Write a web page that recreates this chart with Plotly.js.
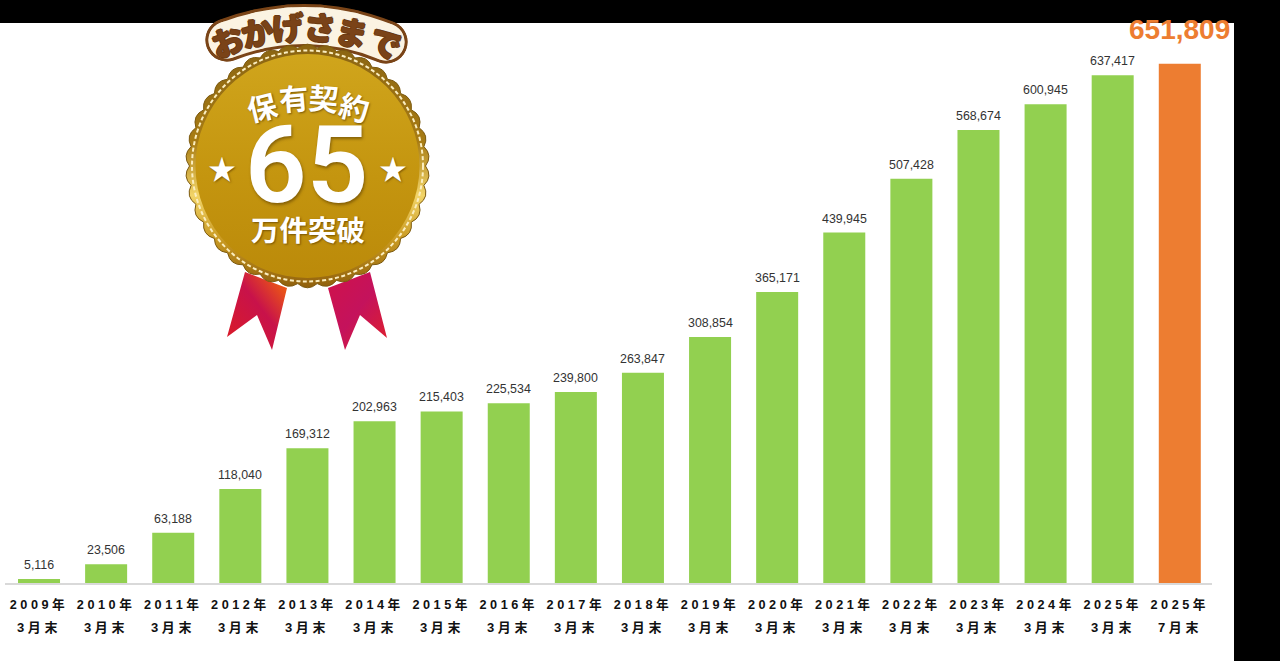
<!DOCTYPE html>
<html><head><meta charset="utf-8">
<script src="https://cdn.plot.ly/plotly-3.0.1.min.js"></script>
<style>html,body{margin:0;padding:0;background:#000;overflow:hidden}</style>
</head><body><div id="chart" style="width:1280px;height:661px"></div>
<script>
const yearLabels=["2009年","2010年","2011年","2012年","2013年","2014年","2015年","2016年","2017年","2018年","2019年","2020年","2021年","2022年","2023年","2024年","2025年","2025年"];
const monthLabels=["3月末","3月末","3月末","3月末","3月末","3月末","3月末","3月末","3月末","3月末","3月末","3月末","3月末","3月末","3月末","3月末","3月末","7月末"];
const contracts=[5116,23506,63188,118040,169312,202963,215403,225534,239800,263847,308854,365171,439945,507428,568674,600945,637417,651809];
const GREEN="#92d050",ORANGE="#ed7d31";

const W=1280,H=661,L=5,R=1212,T=23,B=583;
const px=v=>(v-L)/(R-L), py=v=>(B-v)/(B-T);
const space=s=>Array.from(s).join(" ");
const cats=yearLabels.map((y,i)=>y+monthLabels[i]);
const last=contracts.length-1;
const fmt=v=>v.toLocaleString("en-US");

const annos=[];
contracts.forEach((v,i)=>{
  if(i===last) annos.push({x:cats[i],y:v,xref:"x",yref:"y",text:fmt(v),showarrow:false,yanchor:"bottom",yshift:17,
    font:{family:"Liberation Sans",size:28,color:ORANGE,weight:700}});
  else annos.push({x:cats[i],y:v,xref:"x",yref:"y",text:fmt(v),showarrow:false,yanchor:"bottom",yshift:5,
    font:{family:"Liberation Sans",size:12.4,color:"#333"}});
  annos.push({x:cats[i],y:py(627),xref:"x",yref:"paper",xshift:-2,text:space(monthLabels[i]),showarrow:false,yanchor:"middle",
    font:{family:"Liberation Sans, Noto Sans CJK JP",size:13,color:"#111",weight:700}});
});

// badge text
const badge=(t,x,y,size,angle,extra)=>annos.push(Object.assign({xref:"paper",yref:"paper",x:px(x),y:py(y),text:t,showarrow:false,
  xanchor:"center",yanchor:"middle",textangle:angle||0,
  font:{family:"Noto Sans CJK JP",size:size,color:"#fff",weight:700,shadow:"1px 1px 2px rgba(90,60,0,.7)"}},extra||{}));
const banner=["お","か","げ","さ","ま","で"];
const bannerPos=[[227,40,-20],[257,31,-11],[288,26,-4],[320,26,4],[352,31,11],[386,42,20]];
banner.forEach((c,i)=>badge(c,bannerPos[i][0],bannerPos[i][1],32,bannerPos[i][2],
  {font:{family:"Noto Sans CJK JP",size:32,color:"#7a4318",weight:900,
   shadow:"1px 0 0 #6b3a12,-1px 0 0 #6b3a12,0 1px 0 #6b3a12,0 -1px 0 #6b3a12"}}));
const head=["保","有","契","約"];
const headPos=[[262,106,-14],[294,97,-5],[324,97,5],[355,106,14]];
head.forEach((c,i)=>badge(c,headPos[i][0],headPos[i][1],29.5,headPos[i][2]));
badge("65",306,165,108,0,{font:{family:"Roboto",size:108,color:"#fff",weight:600,shadow:"1px 2px 3px rgba(90,60,0,.6)"}});
badge("★",222,168,28);
badge("★",393,168,28);
badge("万件突破",308,228,28.5);

// medal artwork (no text)
let scallop="";
const n=38,cx=307.5,cy=166,rOut=126,rIn=118;
for(let k=0;k<n;k++){
  const a0=k/n*2*Math.PI,a1=(k+.5)/n*2*Math.PI,a2=(k+1)/n*2*Math.PI;
  const P=(a,r)=>(cx+r*Math.cos(a)).toFixed(1)+" "+(cy+r*Math.sin(a)).toFixed(1);
  scallop+=(k?"":"M"+P(a0,rIn))+"Q"+P(a1,rOut)+" "+P(a2,rIn);
}
let stickers="",stickers2="";
bannerPos.forEach(p=>{
  stickers+=`<circle cx="${p[0]}" cy="${p[1]}" r="21.5" fill="#7a4417"/>`;
  stickers2+=`<circle cx="${p[0]}" cy="${p[1]}" r="18.5" fill="#fbf3e2"/>`;
});
const svg=`<svg xmlns="http://www.w3.org/2000/svg" width="${W}" height="${H}" viewBox="0 0 ${W} ${H}">
<defs>
<linearGradient id="rim" x1="0" y1="0" x2="0" y2="1"><stop offset="0" stop-color="#8a6412"/><stop offset=".4" stop-color="#a87c14"/><stop offset=".62" stop-color="#f2d468"/><stop offset=".8" stop-color="#c99a22"/><stop offset="1" stop-color="#8f5f0c"/></linearGradient>
<linearGradient id="face" x1="0" y1="0" x2="0" y2="1"><stop offset="0" stop-color="#d0a51c"/><stop offset=".55" stop-color="#c4950f"/><stop offset="1" stop-color="#bb8a0a"/></linearGradient>
<linearGradient id="rb1" x1="0" y1="1" x2="1" y2="0"><stop offset="0" stop-color="#dc1c24"/><stop offset=".55" stop-color="#c8124a"/><stop offset=".85" stop-color="#e8501a"/><stop offset="1" stop-color="#e8601a"/></linearGradient>
<linearGradient id="rb2" x1="0" y1="0" x2="1" y2="1"><stop offset="0" stop-color="#d0124a"/><stop offset=".5" stop-color="#c4125c"/><stop offset="1" stop-color="#e0202a"/></linearGradient>
</defs>
<polygon points="245,272 287,288 272,350 257,315 227,337" fill="url(#rb1)"/>
<polygon points="328,288 370,272 387,338 360,315 345,350" fill="url(#rb2)"/>
<path d="M227 40 Q307 10 386 42" fill="none" stroke="#7a4417" stroke-width="43" stroke-linecap="round"/>
${stickers}
<path d="M227 40 Q307 10 386 42" fill="none" stroke="#fbf3e2" stroke-width="37" stroke-linecap="round"/>
${stickers2}
<path d="${scallop}Z" fill="url(#rim)" stroke="#7c5a10" stroke-width="1" stroke-linejoin="round"/>
<circle cx="${cx}" cy="${cy}" r="115.5" fill="none" stroke="#fbeec0" stroke-width="2" stroke-dasharray="4 2.5"/>
<circle cx="${cx}" cy="${cy}" r="112" fill="url(#face)"/>
</svg>`;

Plotly.newPlot("chart",[{
  type:"bar",x:cats,y:contracts,width:0.626,
  marker:{color:contracts.map((v,i)=>i===last?ORANGE:GREEN),line:{width:0}},
  hoverinfo:"skip"
}],{
  width:W,height:H,showlegend:false,
  paper_bgcolor:"#000",plot_bgcolor:"rgba(0,0,0,0)",
  margin:{l:L,r:W-R,t:T,b:H-B,pad:0},
  xaxis:{type:"category",categoryorder:"array",categoryarray:cats,range:[-0.507,17.48],
    tickvals:cats,ticktext:yearLabels.map(y=>space(y)+"\u00a0"),ticks:"outside",ticklen:9,tickcolor:"rgba(0,0,0,0)",
    tickangle:0,showline:true,linecolor:"#d9d9d9",linewidth:2,showgrid:false,zeroline:false,
    tickfont:{family:"Liberation Sans, Noto Sans CJK JP",size:12.7,color:"#111",weight:700}},
  yaxis:{range:[0,703000],visible:false,showgrid:false,zeroline:false},
  shapes:[{type:"rect",xref:"paper",yref:"paper",x0:px(0),x1:px(1234),y0:py(H),y1:py(T),
    fillcolor:"#fff",line:{width:0},layer:"below"}],
  images:[{source:"data:image/svg+xml;charset=utf-8,"+encodeURIComponent(svg),xref:"paper",yref:"paper",
    x:px(0),y:py(0),sizex:W/(R-L),sizey:H/(B-T),xanchor:"left",yanchor:"top",sizing:"stretch",layer:"above"}],
  annotations:annos
},{displayModeBar:false,staticPlot:true});
</script></body></html>
